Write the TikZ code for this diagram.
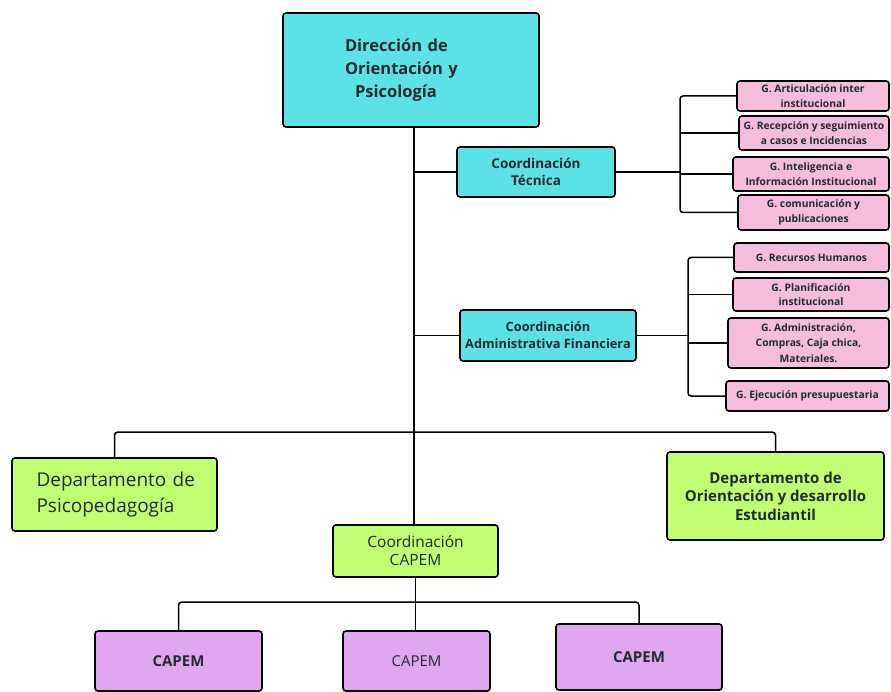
\documentclass[tikz,border=0pt]{standalone}
\usepackage{fontspec}
\setmainfont{Open Sans}
\definecolor{turq}{HTML}{5CE1E6}
\definecolor{rosa}{HTML}{F6BCDD}
\definecolor{lima}{HTML}{C1FF72}
\definecolor{lila}{HTML}{E0A7F0}
\definecolor{ink}{HTML}{1E2B2F}
\tikzset{
  caja/.style={draw=black, line width=1.6pt, rounded corners=3pt, text=ink,
    align=center, inner xsep=1pt, inner ysep=1pt},
  gbox/.style={caja, fill=rosa, font=\bfseries\fontsize{10.3}{14.5}\selectfont},
  coord/.style={caja, fill=turq, font=\bfseries\fontsize{13.5}{17}\selectfont},
  capem/.style={caja, fill=lila, font=\bfseries\fontsize{15}{18}\selectfont},
  rama/.style={line width=1.5pt, rounded corners=3pt}
}
\begin{document}
\begin{tikzpicture}[x=1pt, y=-1pt]
  \useasboundingbox (0,0) rectangle (891,692);
  \node[caja, fill=turq, minimum width=256pt, minimum height=114pt, inner xsep=62pt,
    text width=132pt, align=left, font=\bfseries\fontsize{16.5}{23}\selectfont]
    (dir) at (411,70) {Dirección de\\Orientación y\\\hspace*{10pt}Psicología};
  \node[coord, minimum width=158pt, minimum height=50pt] (tec) at (536,172)
    {Coordinación\\Técnica};
  \node[coord, minimum width=176pt, minimum height=51pt, font=\bfseries\fontsize{12.8}{17}\selectfont]
    (adm) at (548,335.5) {Coordinación\\Administrativa Financiera};
  \node[gbox, minimum width=152pt, minimum height=30pt] (g1) at (813,96)
    {G. Articulación inter\\institucional};
  \node[gbox, minimum width=150pt, minimum height=34pt] (g2) at (814,133)
    {G. Recepción y seguimiento\\a casos e Incidencias};
  \node[gbox, minimum width=156pt, minimum height=34pt] (g3) at (811,174)
    {G. Inteligencia e\\Información Institucional};
  \node[gbox, minimum width=151pt, minimum height=35pt] (g4) at (813.5,212.5)
    {G. comunicación y\\publicaciones};
  \node[gbox, minimum width=155pt, minimum height=29pt] (h1) at (811.5,257.5)
    {G. Recursos Humanos};
  \node[gbox, minimum width=156pt, minimum height=33pt] (h2) at (811,294.5)
    {G. Planificación\\institucional};
  \node[gbox, minimum width=161pt, minimum height=50pt, font=\bfseries\fontsize{10.3}{15.5}\selectfont]
    (h3) at (808.5,343) {G. Administración,\\Compras, Caja chica,\\Materiales.};
  \node[gbox, minimum width=163pt, minimum height=30pt] (h4) at (807.5,396)
    {G. Ejecución presupuestaria};
  \node[caja, fill=lima, minimum width=205pt, minimum height=73pt, inner xsep=18.5pt,
    text width=168pt, align=left, font=\fontsize{19}{26}\selectfont]
    (psi) at (114.5,494.5) {\hspace*{6pt}Departamento de\\\hspace*{6pt}Psicopedagogía};
  \node[caja, fill=lima, minimum width=217pt, minimum height=88pt,
    font=\bfseries\fontsize{15}{18.5}\selectfont]
    (ode) at (775.5,496) {Departamento de\\Orientación y desarrollo\\Estudiantil};
  \node[caja, fill=lima, minimum width=165pt, minimum height=52pt,
    font=\fontsize{15.5}{18}\selectfont] (cc) at (415.5,551) {Coordinación\\CAPEM};
  \node[capem, minimum width=167pt, minimum height=60pt] (c1) at (178.5,661) {CAPEM};
  \node[capem, minimum width=147pt, minimum height=60pt, font=\fontsize{15}{18}\selectfont]
    (c2) at (416.5,661) {CAPEM};
  \node[capem, minimum width=166pt, minimum height=66pt] (c3) at (639,657) {CAPEM};

  \coordinate (tr) at (414,0);
  \coordinate (bt) at (680,0);
  \coordinate (ba) at (688,0);
  \draw[rama] (tr |- dir.south) -- (tr |- cc.north);
  \draw[rama] (tec.west) -- (tec.west -| tr);
  \draw[rama] (adm.west) -- (adm.west -| tr);
  % gerencias
  \draw[rama] (g1.west) -- (g1.west -| bt) -- (g4.west -| bt) -- (g4.west);
  \draw[rama] (g2.west) -- (g2.west -| bt);
  \draw[rama] (g3.west) -- (g3.west -| bt);
  \draw[rama] (tec.east) -- (tec.east -| bt);
  \draw[rama] (h1.west) -- (h1.west -| ba) -- (h4.west -| ba) -- (h4.west);
  \draw[rama] (h2.west) -- (h2.west -| ba);
  \draw[rama] (h3.west) -- (h3.west -| ba);
  \draw[rama] (adm.east) -- (adm.east -| ba);
  % departamentos y CAPEM
  \draw[rama] (psi.north) -- ++(0,-25) -| (ode.north);
  \draw[rama] (cc.south) -- (cc.south |- c2.north);
  \draw[rama] (c1.north) -- ++(0,-28) -| (c3.north);
\end{tikzpicture}
\end{document}
